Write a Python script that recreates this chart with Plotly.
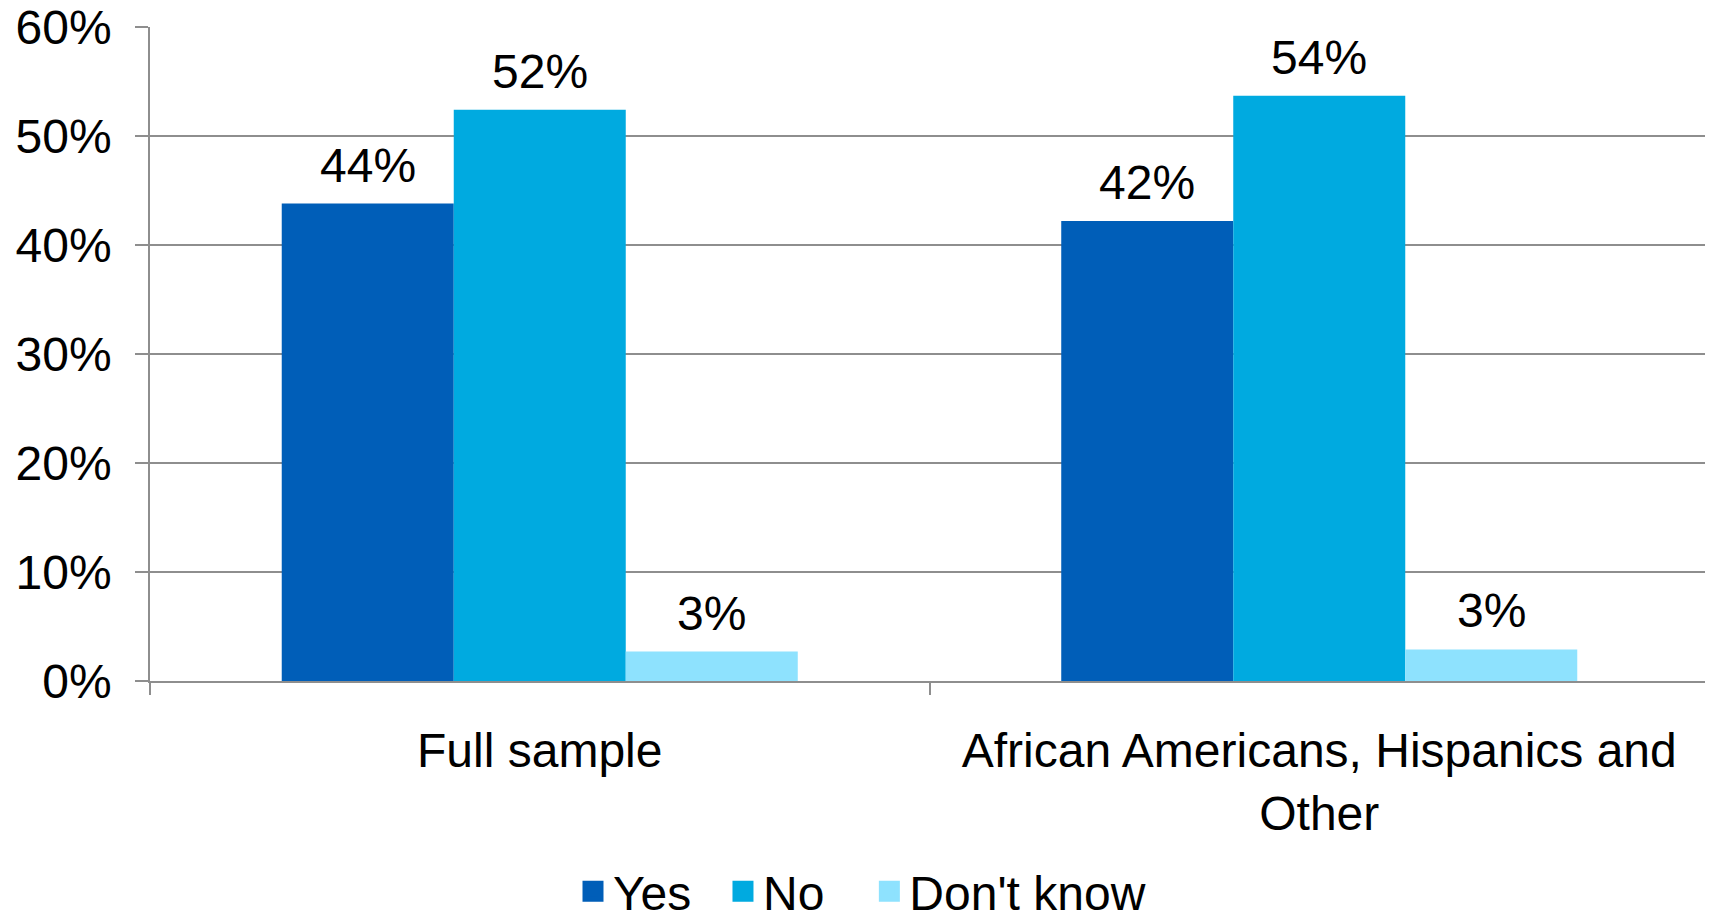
import plotly.graph_objects as go

categories = ["Full sample", "African Americans, Hispanics and<br>Other"]
series_names = ["Yes", "No", "Don't know"]
yes_vals = [43.8, 42.2]
no_vals = [52.4, 53.7]
dk_vals = [2.7, 2.9]
series_values = [yes_vals, no_vals, dk_vals]
colors = ["#005EB8", "#00AAE0", "#8EE2FE"]
y_ticks = [0, 10, 20, 30, 40, 50, 60]
y_tick_labels = [f"{v}%" for v in y_ticks]

FONT = "Liberation Sans, Arial, sans-serif"
FS = 48
GRID = "#8E8E8E"
BARGAP = 0.338
NBSP = "\u00a0"
legend_pad = [2, 3, 0]  # trailing spaces after each legend label

# the page body adds an 8px offset, so the figure is sized to fit the window
W, H = 1705, 908

fig = go.Figure()
for name, vals, col in zip(series_names, series_values, colors):
    fig.add_trace(go.Bar(
        x=categories, y=vals, name=name, marker=dict(color=col, line=dict(width=0)),
        showlegend=False,
    ))
# legend-only swatches
for name, col, pad in zip(series_names, colors, legend_pad):
    fig.add_trace(go.Scatter(
        x=[None], y=[None], mode="markers", name=name + NBSP * pad,
        marker=dict(symbol="square", size=16, color=col, line=dict(color=col, width=5)),
        showlegend=True,
    ))

# value labels above bars, positioned through the category axis
bw = (1 - BARGAP) / len(series_names)
for j, vals in enumerate(series_values):
    for i, v in enumerate(vals):
        fig.add_annotation(
            x=i + (j - (len(series_names) - 1) / 2) * bw, y=v, xref="x", yref="y",
            text=f"{round(v):.0f}%", showarrow=False, yanchor="bottom", yshift=10,
            font=dict(family=FONT, size=FS, color="#000000"),
        )

fig.update_layout(
    width=W, height=H,
    margin=dict(l=142, r=4, t=19, b=235, autoexpand=False),
    paper_bgcolor="white", plot_bgcolor="white",
    barmode="group", bargap=BARGAP, bargroupgap=0,
    font=dict(family=FONT, size=FS, color="#000000"),
    legend=dict(
        orientation="h", xref="container", yref="container",
        x=565 / W, xanchor="left", y=0.027, yanchor="middle",
        font=dict(family=FONT, size=FS, color="#000000"),
        bgcolor="rgba(0,0,0,0)", itemclick=False,
    ),
)
fig.update_xaxes(
    type="category", showline=True, linecolor=GRID, linewidth=1.5,
    ticks="outside", tickson="boundaries", ticklen=12, tickcolor=GRID, tickwidth=1.5,
    showgrid=False, automargin=False, ticklabelstandoff=27,
    tickfont=dict(family=FONT, size=FS, color="#000000"),
)
fig.update_yaxes(
    range=[0, 60], tickvals=y_ticks, ticktext=y_tick_labels,
    showline=True, linecolor=GRID, linewidth=1.5,
    showgrid=True, gridcolor=GRID, gridwidth=1.5, zeroline=False,
    ticks="outside", ticklen=13, tickcolor=GRID, tickwidth=1.5,
    automargin=False, ticklabelstandoff=14, ticklabeloverflow="allow",
    tickfont=dict(family=FONT, size=FS, color="#000000"),
)

fig.write_html("out.html")
